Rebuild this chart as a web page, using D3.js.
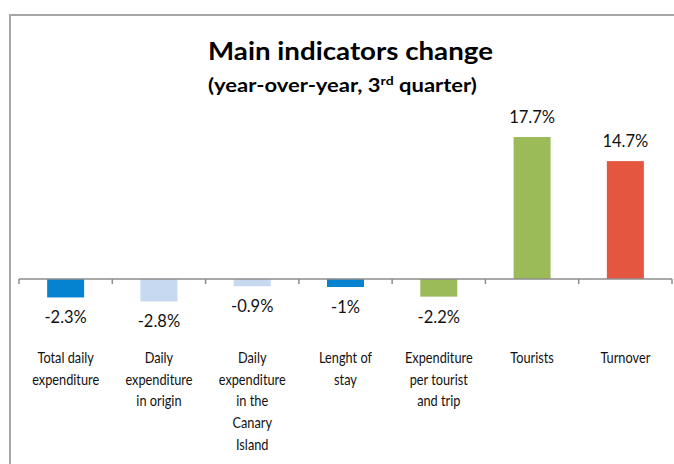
<!DOCTYPE html>
<html><head><meta charset="utf-8">
<script src="https://cdn.jsdelivr.net/npm/d3@7"></script>
<style>body{margin:0;background:#fff}svg{display:block}</style>
</head><body>
<script>
const categories = [
  ["Total daily","expenditure"],
  ["Daily","expenditure","in origin"],
  ["Daily","expenditure","in the","Canary","Island"],
  ["Lenght of","stay"],
  ["Expenditure","per tourist","and trip"],
  ["Tourists"],
  ["Turnover"]
];
const values = [-2.3, -2.8, -0.9, -1, -2.2, 17.7, 14.7];
const valueLabels = ["-2.3%", "-2.8%", "-0.9%", "-1%", "-2.2%", "17.7%", "14.7%"];
const colors = ["#0683d0", "#c6d9f1", "#c6d9f1", "#0683d0", "#9bbb59", "#9bbb59", "#e4563f"];
const title = "Main indicators change";

const W = 674, H = 464;
const svg = d3.select("body").append("svg").attr("width", W).attr("height", H);
const font = "Lato, 'Open Sans', sans-serif";

// frame
svg.append("path").attr("d", `M10,${H} V15 H${W}`).attr("fill","none")
  .attr("stroke","#a5a5a5").attr("stroke-width",2);

const x = d3.scaleBand().domain(d3.range(values.length)).range([19, 672]).paddingInner(0).paddingOuter(0);
const y = d3.scaleLinear().domain([-3, 20]).range([279 + 3*8.02, 279 - 20*8.02]);
const bw = 37;

svg.selectAll("rect.bar").data(values).join("rect").attr("class","bar")
  .attr("x", (d,i) => x(i) + x.bandwidth()/2 - bw/2)
  .attr("width", bw)
  .attr("y", d => y(Math.max(0,d)))
  .attr("height", d => Math.abs(y(d) - y(0)))
  .attr("fill", (d,i) => colors[i]);

// axis
const axisG = svg.append("g").attr("transform", `translate(0,${y(0)})`);
axisG.append("line").attr("x1", 19).attr("x2", 672).attr("stroke","#8c8c8c").attr("stroke-width",1.5);
const tickXs = d3.range(values.length + 1).map(i => i < values.length ? x(i) : x(values.length-1) + x.bandwidth());
axisG.selectAll("line.tick").data(tickXs).join("line").attr("class","tick")
  .attr("x1", d => d).attr("x2", d => d).attr("y1", 0).attr("y2", 5)
  .attr("stroke","#8c8c8c").attr("stroke-width",1.5);

// data labels
svg.selectAll("text.val").data(values).join("text").attr("class","val")
  .attr("x", (d,i) => x(i) + x.bandwidth()/2)
  .attr("y", d => d < 0 ? y(d) + 26 : y(d) - 14)
  .attr("text-anchor","middle").attr("font-family", font).attr("font-size", 16.5)
  .attr("fill","#111")
  .text((d,i) => valueLabels[i]);

// category labels (Calibri-like narrow proportions: compress horizontally)
const probe = svg.append("text").attr("font-family", font).attr("font-size", 15.5).text("expenditure");
const catSx = 67 / probe.node().getComputedTextLength();
probe.remove();
const cat = svg.selectAll("text.cat").data(categories).join("text").attr("class","cat")
  .attr("transform", (d,i) => `translate(${x(i) + x.bandwidth()/2},363) scale(${catSx},1)`)
  .attr("text-anchor","middle").attr("font-family", font).attr("font-size", 15.5)
  .attr("fill","#111");
cat.each(function(lines, i){
  d3.select(this).selectAll("tspan").data(lines).join("tspan")
    .attr("x", 0)
    .attr("dy", (l,j) => j === 0 ? 0 : 21.7)
    .text(l => l);
});

// titles, stretched horizontally to the reference widths
function fitText(sel, cx, cy, targetW){
  sel.attr("x", 0).attr("y", 0);
  const w = sel.node().getComputedTextLength();
  sel.attr("transform", `translate(${cx},${cy}) scale(${targetW / w},1)`);
}
const t1 = svg.append("text").attr("text-anchor","middle")
  .attr("font-family", font).attr("font-weight","bold").attr("font-size", 24).attr("fill","#000")
  .text(title);
fitText(t1, 350.5, 60, 285);
const sub = svg.append("text").attr("text-anchor","middle")
  .attr("font-family", font).attr("font-weight","bold").attr("font-size", 18).attr("fill","#000");
sub.append("tspan").text("(year-over-year, 3");
sub.append("tspan").attr("font-size", 11.5).attr("dy", -7).text("rd");
sub.append("tspan").attr("dy", 7).text(" quarter)");
fitText(sub, 342.5, 92, 269);
</script>
</body></html>
